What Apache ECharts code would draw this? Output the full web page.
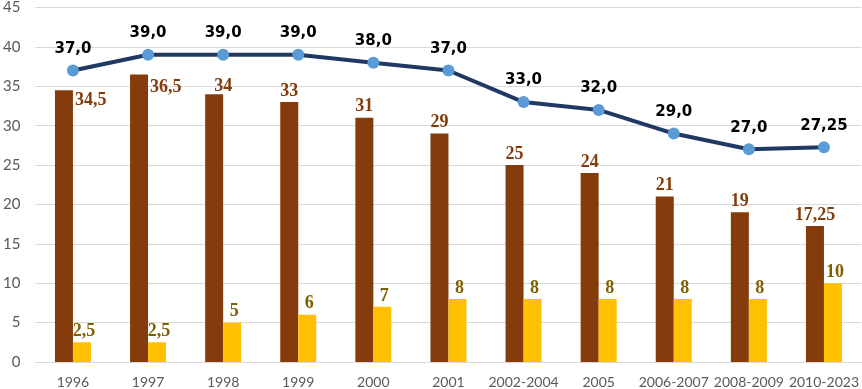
<!DOCTYPE html>
<html>
<head>
<meta charset="utf-8">
<script src="https://cdn.jsdelivr.net/npm/echarts@6/dist/echarts.min.js"></script>
<style>
  html, body { margin: 0; padding: 0; background: #fff; }
  #chart { width: 862px; height: 389px; }
</style>
</head>
<body>
<div id="chart"></div>
<script>
// data
var categories = ['1996', '1997', '1998', '1999', '2000', '2001', '2002-2004', '2005', '2006-2007', '2008-2009', '2010-2023'];
var brownValues = [34.5, 36.5, 34, 33, 31, 29, 25, 24, 21, 19, 17.25];
var yellowValues = [2.5, 2.5, 5, 6, 7, 8, 8, 8, 8, 8, 10];
var lineValues = [37, 39, 39, 39, 38, 37, 33, 32, 29, 27, 27.25];
var yTicks = [0, 5, 10, 15, 20, 25, 30, 35, 40, 45];

function comma(v, digits) {
    var s = digits == null ? String(v) : v.toFixed(digits);
    return s.replace('.', ',');
}

// first two brown labels sit at the right of the bar (the line is in the way),
// the 1998 one is nudged to the right
var brownData = brownValues.map(function (v, i) {
    if (i < 2) {
        return {
            value: v,
            label: { position: ['100%', i == 0 ? 1 : 4], align: 'left', verticalAlign: 'top', offset: [2, 0] }
        };
    }
    if (i == 2) {
        return { value: v, label: { offset: [9, 3] } };
    }
    return v;
});

var chart = echarts.init(document.getElementById('chart'));
var option = {
    animation: false,
    grid: { left: 35, right: 0, top: 6, bottom: 27 },
    xAxis: {
        type: 'category',
        data: categories,
        axisTick: { show: false },
        axisLine: { show: true, lineStyle: { color: '#d9d9d9', width: 1 } },
        axisLabel: {
            interval: 0,
            color: '#595959',
            fontFamily: 'Lato',
            fontSize: 14,
            margin: 13
        }
    },
    yAxis: {
        type: 'value',
        min: yTicks[0],
        max: yTicks[yTicks.length - 1],
        interval: 5,
        axisLine: { show: false },
        axisTick: { show: false },
        splitLine: { lineStyle: { color: '#d9d9d9', width: 1 } },
        axisLabel: {
            color: '#595959',
            fontFamily: 'Lato',
            fontSize: 15,
            margin: 15
        }
    },
    series: [
        {
            name: 'brown',
            type: 'bar',
            data: brownData,
            barWidth: 18,
            barGap: '0%',
            itemStyle: { color: '#843c0c' },
            label: {
                show: true,
                position: 'top',
                distance: 2,
                color: '#843c0c',
                fontFamily: 'Liberation Serif',
                fontWeight: 'bold',
                fontSize: 18,
                formatter: function (p) { return comma(p.value); }
            },
            z: 2
        },
        {
            name: 'yellow',
            type: 'bar',
            data: yellowValues,
            barWidth: 18,
            itemStyle: { color: '#ffc000' },
            label: {
                show: true,
                position: 'top',
                distance: 2,
                offset: [2, 0],
                color: '#7f6000',
                fontFamily: 'Liberation Serif',
                fontWeight: 'bold',
                fontSize: 18,
                formatter: function (p) { return comma(p.value); }
            },
            z: 2
        },
        {
            name: 'line',
            type: 'line',
            data: lineValues,
            symbol: 'circle',
            symbolSize: 12,
            lineStyle: { color: '#203864', width: 4 },
            itemStyle: { color: '#5b9bd5' },
            label: {
                show: true,
                position: 'top',
                distance: 8,
                color: '#000',
                fontFamily: 'DejaVu Sans',
                fontWeight: 'bold',
                fontSize: 15,
                formatter: function (p) {
                    return p.value % 1 === 0 ? comma(p.value, 1) : comma(p.value, 2);
                }
            },
            z: 5
        }
    ]
};
chart.setOption(option);
</script>
</body>
</html>
